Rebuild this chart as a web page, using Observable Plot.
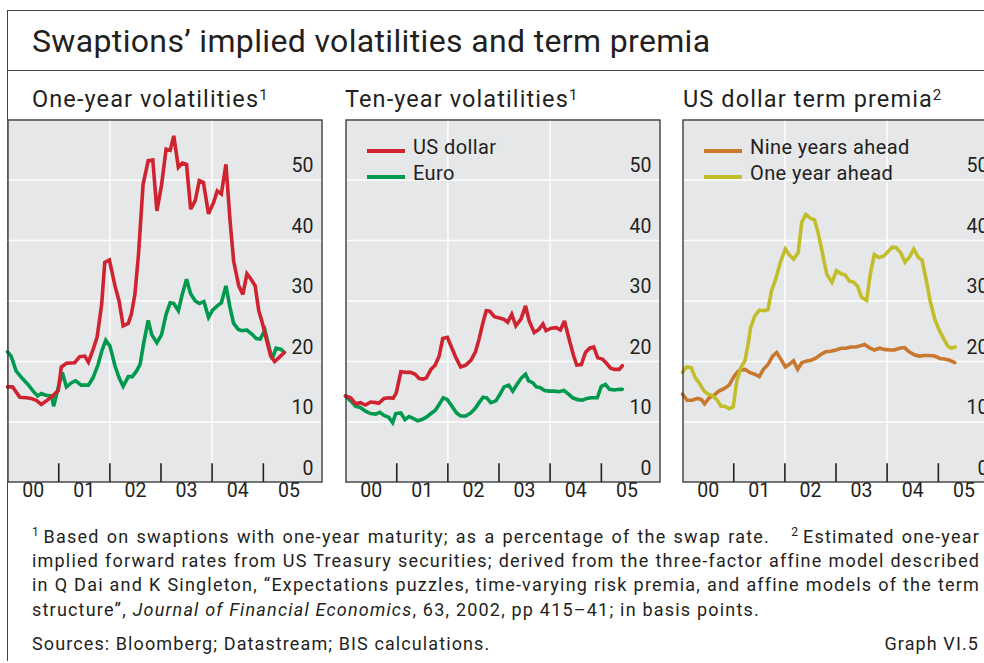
<!DOCTYPE html>
<html><head><meta charset="utf-8">
<script src="https://cdn.jsdelivr.net/npm/d3@7"></script>
<script src="https://cdn.jsdelivr.net/npm/@observablehq/plot@0.6"></script>
<style>
html,body{margin:0;padding:0;background:#fff;overflow:hidden;width:984px;height:663px;}
body{position:relative;font-family:Roboto,"Liberation Sans",sans-serif;color:#231f20;}
.abs{position:absolute;}
.hline{position:absolute;height:0;border-top:1.4px solid #444;}
.vline{position:absolute;width:0;border-left:1.4px solid #444;}
.title{left:32px;top:22px;font-size:32px;letter-spacing:0.35px;white-space:nowrap;}
.ptitle{top:85px;font-size:23.5px;letter-spacing:1.1px;white-space:nowrap;}
.ptitle sup{font-size:15px;vertical-align:7px;line-height:0;letter-spacing:0;}
.panel{top:119px;width:315px;}
.leg{position:absolute;font-size:20px;letter-spacing:0.4px;white-space:nowrap;}
.sw{position:absolute;width:38px;height:0;border-top:4px solid;}
.fn{position:absolute;left:32px;width:948px;font-size:18px;letter-spacing:1.2px;text-align:justify;text-align-last:justify;white-space:nowrap;}
.fn.last{text-align-last:left;}
.fn sup{font-size:12px;letter-spacing:0;}
</style></head><body>
<script>
// ---------- data ----------
const yearLabels = ["00","01","02","03","04","05"];
const yLabels = [0,10,20,30,40,50];
const yGrid = [10,20,30,40,50];
const xGridYears = [2002,2004];
const yearBounds = [2001,2002,2003,2004,2005];

const oneYearUSD = [[2000.00,15.8],[2000.10,15.8],[2000.24,14.1],[2000.37,14.0],[2000.46,13.9],[2000.56,13.6],[2000.66,12.9],[2000.79,13.7],[2000.89,14.4],[2000.99,15.2],[2001.05,19.1],[2001.15,19.7],[2001.31,19.8],[2001.41,20.8],[2001.51,20.9],[2001.58,19.9],[2001.66,21.7],[2001.75,24.0],[2001.84,29.5],[2001.90,36.4],[2001.99,36.8],[2002.10,32.5],[2002.18,30.0],[2002.26,25.9],[2002.36,26.3],[2002.42,27.8],[2002.49,31.1],[2002.56,37.7],[2002.65,49.3],[2002.75,53.2],[2002.84,53.3],[2002.92,44.9],[2003.01,49.1],[2003.10,55.1],[2003.18,54.9],[2003.25,57.3],[2003.34,52.1],[2003.42,52.8],[2003.50,52.6],[2003.58,45.2],[2003.67,46.6],[2003.75,49.9],[2003.83,49.6],[2003.93,44.4],[2004.03,46.3],[2004.10,48.2],[2004.18,47.7],[2004.27,52.6],[2004.35,43.3],[2004.42,36.6],[2004.52,32.5],[2004.60,31.1],[2004.68,34.5],[2004.76,33.6],[2004.84,32.5],[2004.91,28.4],[2004.97,26.7],[2005.05,24.0],[2005.14,21.0],[2005.22,20.0],[2005.30,20.6],[2005.41,21.5]];

const oneYearEUR = [[2000.00,21.6],[2000.07,20.9],[2000.17,18.4],[2000.30,17.1],[2000.40,16.2],[2000.50,15.1],[2000.59,14.3],[2000.66,14.7],[2000.76,14.4],[2000.86,14.3],[2000.90,12.6],[2000.99,15.7],[2001.07,18.2],[2001.15,15.8],[2001.25,16.5],[2001.33,16.8],[2001.44,16.1],[2001.58,16.1],[2001.67,17.3],[2001.77,19.5],[2001.84,21.7],[2001.92,23.5],[2002.00,22.6],[2002.10,19.3],[2002.18,17.3],[2002.26,15.9],[2002.36,17.5],[2002.44,17.5],[2002.52,18.4],[2002.59,19.5],[2002.67,23.4],[2002.75,26.8],[2002.82,24.4],[2002.92,23.1],[2003.01,24.4],[2003.10,27.8],[2003.18,29.7],[2003.25,29.6],[2003.34,28.4],[2003.41,30.9],[2003.50,33.6],[2003.58,31.2],[2003.67,30.0],[2003.75,29.6],[2003.84,29.9],[2003.93,27.3],[2004.01,28.5],[2004.10,29.2],[2004.18,29.7],[2004.27,32.5],[2004.35,28.9],[2004.42,26.3],[2004.51,25.3],[2004.58,25.1],[2004.68,25.2],[2004.78,24.5],[2004.86,23.8],[2004.94,23.7],[2005.03,25.2],[2005.10,22.8],[2005.17,20.4],[2005.25,22.2],[2005.35,22.0],[2005.41,21.5]];

const tenYearUSD = [[2000.00,14.3],[2000.10,14.0],[2000.20,13.0],[2000.29,13.2],[2000.39,12.8],[2000.49,13.3],[2000.59,13.2],[2000.65,13.1],[2000.75,13.9],[2000.85,14.0],[2000.93,13.9],[2000.99,14.8],[2001.08,18.3],[2001.18,18.2],[2001.27,18.2],[2001.36,17.9],[2001.44,17.2],[2001.52,17.1],[2001.58,17.3],[2001.67,18.7],[2001.75,19.4],[2001.83,20.9],[2001.90,23.8],[2001.99,24.0],[2002.08,22.2],[2002.16,20.6],[2002.25,19.1],[2002.35,19.4],[2002.45,20.2],[2002.54,21.6],[2002.61,23.7],[2002.68,26.2],[2002.75,28.4],[2002.82,28.3],[2002.91,27.4],[2003.01,27.2],[2003.09,27.0],[2003.17,26.5],[2003.25,27.8],[2003.33,25.9],[2003.43,27.0],[2003.52,29.2],[2003.59,26.7],[2003.69,24.8],[2003.78,25.3],[2003.86,26.2],[2003.92,25.1],[2004.02,25.5],[2004.12,25.6],[2004.20,25.2],[2004.28,26.7],[2004.38,23.4],[2004.46,20.9],[2004.52,19.4],[2004.61,19.5],[2004.69,21.5],[2004.77,22.2],[2004.85,22.4],[2004.93,20.6],[2005.02,20.4],[2005.10,19.7],[2005.18,18.9],[2005.26,18.7],[2005.35,18.7],[2005.41,19.3]];

const tenYearEUR = [[2000.00,14.3],[2000.10,13.5],[2000.20,12.6],[2000.29,12.4],[2000.39,11.8],[2000.49,11.4],[2000.59,11.3],[2000.67,11.6],[2000.75,11.1],[2000.84,10.8],[2000.92,9.9],[2000.98,11.4],[2001.08,11.5],[2001.16,10.4],[2001.24,10.9],[2001.32,10.6],[2001.41,10.2],[2001.49,10.4],[2001.58,10.8],[2001.67,11.4],[2001.75,11.9],[2001.83,12.9],[2001.91,14.0],[2001.99,13.7],[2002.08,12.6],[2002.17,11.5],[2002.25,11.0],[2002.35,11.0],[2002.45,11.5],[2002.54,12.3],[2002.61,13.2],[2002.69,14.1],[2002.76,14.0],[2002.84,13.2],[2002.94,13.5],[2003.02,14.6],[2003.10,15.8],[2003.19,16.1],[2003.27,15.1],[2003.35,16.2],[2003.44,17.3],[2003.52,17.9],[2003.58,16.8],[2003.66,16.5],[2003.73,15.8],[2003.80,15.7],[2003.89,15.2],[2003.99,15.1],[2004.08,15.1],[2004.17,15.0],[2004.27,15.2],[2004.36,14.6],[2004.44,14.0],[2004.54,13.7],[2004.63,13.6],[2004.72,13.9],[2004.80,14.0],[2004.92,14.0],[2005.00,15.9],[2005.08,16.2],[2005.16,15.4],[2005.26,15.3],[2005.35,15.4],[2005.41,15.4]];

const nineYearsAhead = [[2000.00,14.6],[2000.09,13.6],[2000.19,13.6],[2000.29,13.9],[2000.37,13.7],[2000.43,13.0],[2000.52,14.0],[2000.61,14.4],[2000.71,15.1],[2000.81,15.5],[2000.91,16.1],[2001.01,17.6],[2001.10,18.5],[2001.22,18.7],[2001.31,18.2],[2001.41,17.9],[2001.50,17.5],[2001.58,18.7],[2001.67,19.5],[2001.76,20.9],[2001.84,21.5],[2001.92,20.4],[2002.01,19.1],[2002.08,19.5],[2002.17,20.1],[2002.25,18.7],[2002.33,19.8],[2002.43,20.1],[2002.51,20.2],[2002.61,20.6],[2002.71,21.2],[2002.80,21.6],[2002.90,21.7],[2003.00,21.9],[2003.10,22.2],[2003.20,22.2],[2003.29,22.4],[2003.39,22.4],[2003.48,22.6],[2003.56,22.8],[2003.65,22.3],[2003.75,21.9],[2003.85,22.2],[2003.95,22.0],[2004.05,21.9],[2004.14,21.9],[2004.24,22.2],[2004.34,22.3],[2004.43,21.6],[2004.53,21.1],[2004.63,20.9],[2004.73,21.0],[2004.82,21.0],[2004.93,20.9],[2005.03,20.5],[2005.12,20.4],[2005.22,20.2],[2005.32,19.8]];

const oneYearAhead = [[2000.00,18.2],[2000.08,19.1],[2000.17,19.0],[2000.25,17.3],[2000.34,16.3],[2000.42,15.1],[2000.50,14.6],[2000.58,14.4],[2000.67,13.7],[2000.75,12.6],[2000.82,12.6],[2000.91,12.2],[2000.99,12.5],[2001.06,16.8],[2001.14,19.0],[2001.22,20.2],[2001.28,22.8],[2001.33,25.6],[2001.41,27.5],[2001.50,28.5],[2001.59,28.4],[2001.67,28.6],[2001.74,31.7],[2001.82,33.6],[2001.92,36.6],[2002.01,38.6],[2002.08,37.7],[2002.17,36.9],[2002.26,38.0],[2002.33,43.0],[2002.41,44.3],[2002.50,43.7],[2002.58,43.4],[2002.65,41.3],[2002.74,37.7],[2002.82,34.4],[2002.92,33.1],[2003.01,35.0],[2003.10,34.5],[2003.18,34.3],[2003.26,33.3],[2003.35,33.1],[2003.42,32.5],[2003.50,30.6],[2003.60,30.1],[2003.67,34.4],[2003.75,37.7],[2003.84,37.2],[2003.93,37.4],[2004.01,38.1],[2004.10,38.9],[2004.18,38.8],[2004.27,37.9],[2004.35,36.4],[2004.44,37.3],[2004.52,38.6],[2004.61,37.2],[2004.68,36.8],[2004.76,33.6],[2004.84,30.0],[2004.93,27.0],[2005.01,25.3],[2005.09,24.0],[2005.18,22.6],[2005.25,22.2],[2005.33,22.4]];

const RED = "#cf2430", GREEN = "#009a4e", ORANGE = "#c8782f", OLIVE = "#c2bd2b";

// ---------- helpers ----------
function toDate(y){
  const yr = Math.floor(y), f = y - yr;
  const a = Date.UTC(yr,0,1), b = Date.UTC(yr+1,0,1);
  return new Date(a + f*(b-a));
}
function el(tag, cls, style, html){
  const e = document.createElement(tag);
  if (cls) e.className = cls;
  if (style) e.setAttribute("style", style);
  if (html != null) e.innerHTML = html;
  document.body.appendChild(e);
  return e;
}

function panel(left, series){
  const marks = [
    Plot.frame({fill:"#e6e7e9", stroke:null}),
    Plot.ruleY(yGrid, {stroke:"#fff", strokeWidth:1.4}),
    Plot.ruleX(xGridYears, {x: d => toDate(d), stroke:"#fff", strokeWidth:1.4}),
    Plot.ruleX(yearBounds, {x: d => toDate(d), y1: 0, y2: 3.1, stroke:"#231f20", strokeWidth:1.6}),
    Plot.text(yLabels, {y: d => d, text: d => String(d), frameAnchor:"right", textAnchor:"end", dx:-9, dy:-14, fill:"#231f20"})
  ];
  for (const s of series){
    marks.push(Plot.line(s.data, {x: d => toDate(d[0]), y: d => d[1], stroke: s.color, strokeWidth: 3.6, strokeLinejoin:"miter", strokeMiterlimit: 3}));
  }
  marks.push(Plot.text(yearLabels, {x: (d,i) => toDate(2000.5 + i), text: d => d, frameAnchor:"bottom", dy: 14, fill:"#231f20"}));
  marks.push(Plot.frame({stroke:"#333", strokeWidth:1.3, inset:0.5}));
  const p = Plot.plot({
    width: 315, height: 397,
    marginTop: 0, marginLeft: 0, marginRight: 0, marginBottom: 34,
    x: {type:"utc", domain:[toDate(2000), toDate(2006.157)], axis:null},
    y: {domain:[0,60], axis:null},
    style: {background:"transparent", fontFamily:"Roboto, 'Liberation Sans', sans-serif", fontSize:"19.5px", overflow:"visible"},
    marks
  });
  const wrap = el("div", "abs panel", `left:${left}px;`);
  wrap.appendChild(p);
  return wrap;
}

// ---------- frame & titles ----------
el("div","hline","left:7px;top:9.5px;width:990px;");
el("div","vline","left:7px;top:9.5px;height:651px;");
el("div","hline","left:7px;top:69.5px;width:990px;");
el("div","abs title",null,"Swaptions’ implied volatilities and term premia");
el("div","abs ptitle","left:32px;","One-year volatilities<sup>1</sup>");
el("div","abs ptitle","left:345px;","Ten-year volatilities<sup>1</sup>");
el("div","abs ptitle","left:683px;","US dollar term premia<sup>2</sup>");

// ---------- panels ----------
panel(7, [{data: oneYearEUR, color: GREEN}, {data: oneYearUSD, color: RED}]);
panel(345, [{data: tenYearEUR, color: GREEN}, {data: tenYearUSD, color: RED}]);
panel(682, [{data: nineYearsAhead, color: ORANGE}, {data: oneYearAhead, color: OLIVE}]);

// ---------- legends ----------
el("div","sw",`left:367px;top:149px;border-color:${RED};`);
el("div","leg","left:413px;top:135px;","US dollar");
el("div","sw",`left:367px;top:175px;border-color:${GREEN};`);
el("div","leg","left:413px;top:161px;","Euro");
el("div","sw",`left:704px;top:149px;border-color:${ORANGE};`);
el("div","leg","left:750px;top:135px;","Nine years ahead");
el("div","sw",`left:704px;top:175px;border-color:${OLIVE};`);
el("div","leg","left:750px;top:161px;","One year ahead");

// ---------- footnotes ----------
el("div","fn","top:525px;","<sup>1</sup>&#8201;Based on swaptions with one-year maturity; as a percentage of the swap rate.&nbsp;&nbsp; <sup>2</sup>&#8201;Estimated one-year");
el("div","fn","top:549.5px;","implied forward rates from US Treasury securities; derived from the three-factor affine model described");
el("div","fn","top:574px;","in Q Dai and K Singleton, “Expectations puzzles, time-varying risk premia, and affine models of the term");
el("div","fn last","top:598.5px;","structure”, <i>Journal of Financial Economics</i>, 63, 2002, pp 415–41; in basis points.");
el("div","abs","left:32px;top:633px;font-size:18px;letter-spacing:1.1px;white-space:nowrap;","Sources: Bloomberg; Datastream; BIS calculations.");
el("div","abs","right:5px;top:633px;font-size:18px;letter-spacing:1.1px;white-space:nowrap;","Graph VI.5");
</script>
</body></html>
